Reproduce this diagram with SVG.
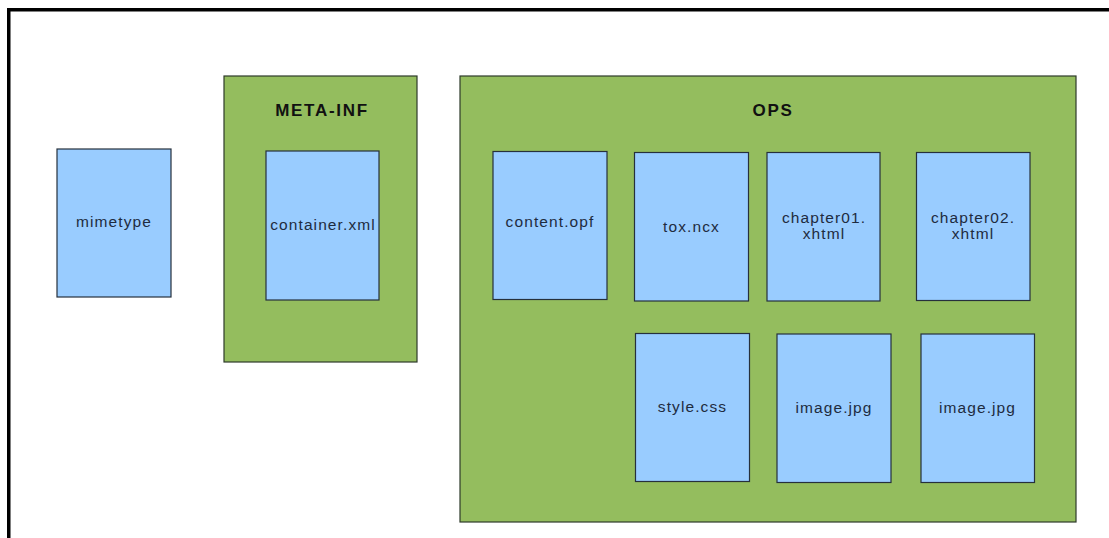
<svg xmlns="http://www.w3.org/2000/svg" width="1109" height="538" viewBox="0 0 1109 538">
<style>
.frame{fill:none;stroke:#000;stroke-width:3.5}
.folder{fill:#94bd5e;stroke:#2e3a2a;stroke-width:1.2}
.file{fill:#99ccff;stroke:#26303c;stroke-width:1.2}
.ft{font-family:"Liberation Sans",Arial,sans-serif;font-size:15.5px;letter-spacing:1.1px;fill:#1e2b40;text-anchor:middle}
.dt{font-family:"Liberation Sans",Arial,sans-serif;font-size:17px;font-weight:bold;letter-spacing:1.7px;fill:#111;text-anchor:middle}
</style>
<rect x="0" y="0" width="1109" height="538" fill="#fff"/>
<path class="frame" d="M8.75 538 V9.75 H1109"/>
<g id="mimetype"><rect class="file" x="57" y="149" width="114" height="148"/><text class="ft" x="114" y="227">mimetype</text></g>
<g id="meta-inf"><rect class="folder" x="224" y="76" width="193" height="286"/><text class="dt" x="322" y="116">META-INF</text></g>
<g id="container"><rect class="file" x="266" y="151" width="113" height="149"/><text class="ft" x="323" y="230">container.xml</text></g>
<g id="ops"><rect class="folder" x="460" y="76" width="616" height="446"/><text class="dt" x="773" y="116">OPS</text></g>
<g id="content-opf"><rect class="file" x="493" y="151.5" width="114" height="148"/><text class="ft" x="550" y="227">content.opf</text></g>
<g id="tox-ncx"><rect class="file" x="634.5" y="152.5" width="114" height="148.5"/><text class="ft" x="691.5" y="232">tox.ncx</text></g>
<g id="chapter01"><rect class="file" x="767" y="152.5" width="113" height="148.5"/><text class="ft" x="824" y="223">chapter01.</text><text class="ft" x="824" y="239">xhtml</text></g>
<g id="chapter02"><rect class="file" x="916.5" y="152.5" width="113.5" height="148"/><text class="ft" x="973" y="223">chapter02.</text><text class="ft" x="973" y="239">xhtml</text></g>
<g id="style-css"><rect class="file" x="635.5" y="333.5" width="114" height="148"/><text class="ft" x="692.5" y="412">style.css</text></g>
<g id="image1"><rect class="file" x="777" y="334" width="114" height="148.5"/><text class="ft" x="834" y="413">image.jpg</text></g>
<g id="image2"><rect class="file" x="921" y="334" width="113.5" height="148.5"/><text class="ft" x="977.5" y="413">image.jpg</text></g>
<g id="connectors"></g>
</svg>
